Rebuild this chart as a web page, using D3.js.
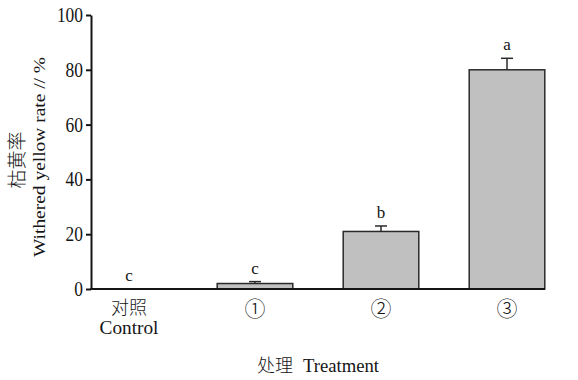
<!DOCTYPE html>
<html>
<head>
<meta charset="utf-8">
<script src="https://cdn.jsdelivr.net/npm/d3@7"></script>
<style>
  html, body { margin: 0; padding: 0; background: #fff; }
  svg { display: block; }
  .latin { font-family: "Liberation Serif", "DejaVu Serif", serif; }
  .cjk { font-family: "Noto Sans CJK SC", sans-serif; font-weight: 300; }
</style>
</head>
<body>
<svg id="chart" width="578" height="380"></svg>
<script>
// Withered yellow rate per treatment (mean, upper error, significance letter)
const categories = ["对照", "①", "②", "③"];
const categorySub = ["Control", "", "", ""];
const values = [0, 2, 21, 80];
const errors = [0, 0.7, 2, 4.2];
const letters = ["c", "c", "b", "a"];
const yTicks = [0, 20, 40, 60, 80, 100];

const svg = d3.select("#chart");
const axisX0 = 91, axisX1 = 545;
const yTop = 15, yBottom = 289;
const ink = "#151515";

const x = d3.scaleBand()
  .domain(categories)
  .range([66, 570])
  .paddingInner(0.4)
  .paddingOuter(0.2);

const y = d3.scaleLinear().domain([0, 100]).range([yBottom, yTop]);

// Bars
svg.append("g").selectAll("rect")
  .data(categories)
  .join("rect")
  .attr("x", d => x(d))
  .attr("width", x.bandwidth())
  .attr("y", (d, i) => y(values[i]))
  .attr("height", (d, i) => y(0) - y(values[i]))
  .attr("fill", "#c0c0c0")
  .attr("stroke", "#2a2a2a")
  .attr("stroke-width", 1.5)
  .attr("display", (d, i) => values[i] > 0 ? null : "none");

// Upper error bars
const eb = svg.append("g").attr("stroke", "#2a2a2a").attr("stroke-width", 1.5);
categories.forEach((c, i) => {
  if (errors[i] <= 0) return;
  const cx = x(c) + x.bandwidth() / 2;
  eb.append("line").attr("x1", cx).attr("x2", cx)
    .attr("y1", y(values[i])).attr("y2", y(values[i] + errors[i]));
  eb.append("line").attr("x1", cx - 6).attr("x2", cx + 6)
    .attr("y1", y(values[i] + errors[i])).attr("y2", y(values[i] + errors[i]));
});

// Significance letters
svg.append("g").selectAll("text")
  .data(categories)
  .join("text")
  .attr("class", "latin")
  .attr("x", d => x(d) + x.bandwidth() / 2)
  .attr("y", (d, i) => y(values[i] + errors[i]) - 8)
  .attr("text-anchor", "middle")
  .attr("font-size", 17)
  .attr("fill", ink)
  .text((d, i) => letters[i]);

// Y axis
const yAxis = d3.axisLeft(y).tickValues(yTicks).tickSize(5).tickSizeOuter(0).tickPadding(3);
const gy = svg.append("g").attr("transform", `translate(${axisX0},0)`).call(yAxis);
gy.select(".domain").attr("stroke", ink).attr("stroke-width", 2);
gy.selectAll(".tick line").attr("stroke", ink).attr("stroke-width", 2);
gy.selectAll(".tick text")
  .attr("class", "latin")
  .attr("font-family", null)
  .attr("font-size", 20)
  .attr("fill", ink)
  .attr("textLength", d => String(d).length * 8.7)
  .attr("lengthAdjust", "spacingAndGlyphs");

// X axis baseline
svg.append("line")
  .attr("x1", axisX0 - 1).attr("x2", axisX1)
  .attr("y1", y(0)).attr("y2", y(0))
  .attr("stroke", ink).attr("stroke-width", 2);

// X category labels
const xl = svg.append("g");
categories.forEach((c, i) => {
  const cx = x(c) + x.bandwidth() / 2;
  const isCircled = !categorySub[i];
  xl.append("text")
    .attr("class", "cjk")
    .attr("x", cx).attr("y", isCircled ? 316 : 314)
    .attr("text-anchor", "middle")
    .attr("font-size", isCircled ? 21 : 18)
    .attr("fill", ink)
    .text(c);
  if (categorySub[i]) {
    xl.append("text")
      .attr("class", "latin")
      .attr("x", cx).attr("y", 334)
      .attr("text-anchor", "middle")
      .attr("font-size", 18)
      .attr("textLength", 59)
      .attr("lengthAdjust", "spacingAndGlyphs")
      .attr("fill", ink)
      .text(categorySub[i]);
  }
});

// X axis title
svg.append("text")
  .attr("class", "cjk")
  .attr("x", 257).attr("y", 372)
  .attr("font-size", 18)
  .attr("fill", ink)
  .text("处理");
svg.append("text")
  .attr("class", "latin")
  .attr("x", 303).attr("y", 372)
  .attr("font-size", 18)
  .attr("textLength", 76)
  .attr("lengthAdjust", "spacingAndGlyphs")
  .attr("fill", ink)
  .text("Treatment");

// Y axis title (two rotated lines)
svg.append("text")
  .attr("class", "cjk")
  .attr("transform", "translate(24,160) rotate(-90)")
  .attr("text-anchor", "middle")
  .attr("font-size", 19)
  .attr("fill", ink)
  .text("枯黄率");
svg.append("text")
  .attr("class", "latin")
  .attr("transform", "translate(45,157) rotate(-90)")
  .attr("text-anchor", "middle")
  .attr("font-size", 17)
  .attr("textLength", 200)
  .attr("lengthAdjust", "spacingAndGlyphs")
  .attr("fill", ink)
  .text("Withered yellow rate // %");
</script>
</body>
</html>
